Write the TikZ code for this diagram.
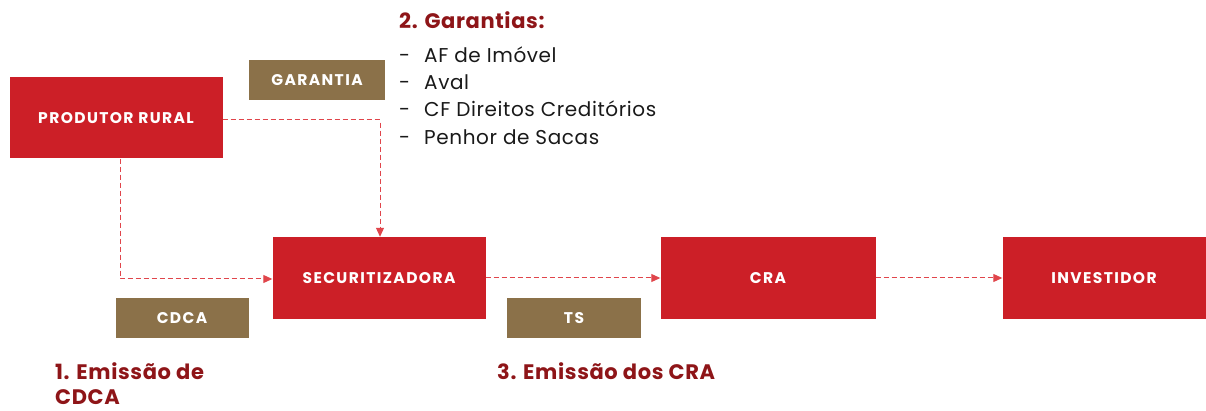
\documentclass[tikz,border=0pt]{standalone}
\usepackage{fontspec}
\setmainfont{Poppins}
\newfontfamily\boxfont[LetterSpace=9]{Poppins}
\newfontfamily\txtfont[LetterSpace=3]{Poppins}
\usetikzlibrary{arrows.meta}
\definecolor{boxred}{HTML}{CC1F27}
\definecolor{boxbrown}{HTML}{8B7149}
\definecolor{titlered}{HTML}{8E1518}
\definecolor{linered}{HTML}{E0454B}
\tikzset{
  redbox/.style={fill=boxred, draw=none, text=white, font=\boxfont\fontsize{15.5}{17}\selectfont\bfseries, inner sep=0pt},
  brownbox/.style={fill=boxbrown, draw=none, text=white, font=\boxfont\fontsize{15.5}{17}\selectfont\bfseries, inner sep=0pt},
  flow/.style={draw=linered, dashed, dash pattern=on 5pt off 3pt, line width=1pt, -{Triangle[length=9pt,width=8pt]}},
  title/.style={text=titlered, font=\txtfont\fontsize{21}{24}\selectfont\bfseries, anchor=north west, inner sep=0pt, align=left},
  item/.style={text=black!90, font=\txtfont\fontsize{20}{23}\selectfont, anchor=west, inner sep=0pt}
}
\begin{document}
\begin{tikzpicture}[x=1pt,y=-1pt]
\useasboundingbox (0,0) rectangle (1206,411);
% boxes
\node[redbox, minimum width=213pt, minimum height=81pt] (prod) at (116,118) {PRODUTOR RURAL};
\node[brownbox, minimum width=136pt, minimum height=40pt] (gar) at (317,80) {GARANTIA};
\node[redbox, minimum width=213pt, minimum height=82pt] (sec) at (379,278) {SECURITIZADORA};
\node[brownbox, minimum width=133pt, minimum height=39pt] (cdca) at (182,318) {CDCA};
\node[brownbox, minimum width=134pt, minimum height=39pt] (ts) at (574,318) {TS};
\node[redbox, minimum width=215pt, minimum height=82pt] (cra) at (768,278) {CRA};
\node[redbox, minimum width=203pt, minimum height=82pt] (inv) at (1104,278) {INVESTIDOR};
% connectors
\coordinate (c1) at (380,120);
\coordinate (c2) at (120,279);
\draw[flow] (prod.east |- c1) -- (c1) -- (sec.north -| c1);
\draw[flow] (prod.south -| c2) -- (c2) -- (sec.west |- c2);
\draw[flow] (sec.east) -- (cra.west);
\draw[flow] (cra.east) -- (inv.west);
% texts
\node[title] (t2) at (399,11) {2. Garantias:};
\node[item] (i1) at (399,55) {-\hspace{14pt}AF de Imóvel};
\node[item] (i2) at (399,82) {-\hspace{14pt}Aval};
\node[item] (i3) at (399,109) {-\hspace{14pt}CF Direitos Creditórios};
\node[item] (i4) at (399,137) {-\hspace{14pt}Penhor de Sacas};
\node[title] (t1) at (55,362) {1. Emissão de\\[1pt]CDCA};
\node[title] (t3) at (497,362) {3. Emissão dos CRA};
\end{tikzpicture}
\end{document}
